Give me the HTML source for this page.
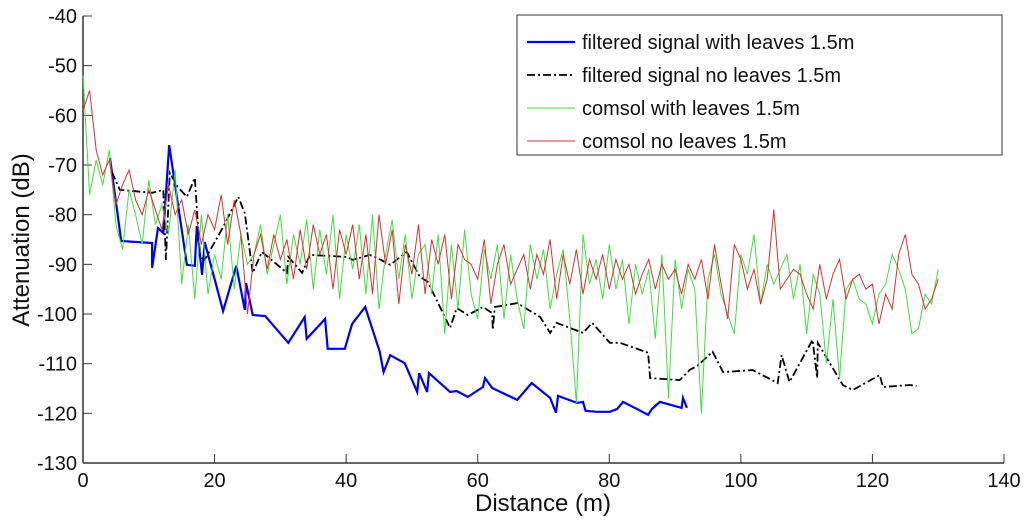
<!DOCTYPE html>
<html><head><meta charset="utf-8"><style>
html,body{margin:0;padding:0;background:#fff;}
svg{display:block;font-family:"Liberation Sans",Arial,sans-serif;}
</style></head><body>
<svg id="chart" width="1024" height="523" viewBox="0 0 1024 523" xmlns="http://www.w3.org/2000/svg">
<g id="axes"></g>
<g id="series"></g>
<g id="legend"></g>
</svg>
<script>
const xTicks=[0,20,40,60,80,100,120,140];
const yTicks=[-40,-50,-60,-70,-80,-90,-100,-110,-120,-130];
const blueX=[4.1,5.8,10.5,10.5,11.4,12.2,13.1,15.8,17,17.3,18.1,18.5,21.3,23.3,24.6,24.8,25.8,27.7,31.2,33.7,34,36.8,37.2,39.8,40.9,42.9,45.1,45.7,46.7,48.9,50.8,51.1,52.3,52.6,55.8,56.8,58.5,60.8,61.1,62.2,66,68.2,71,71.9,72.2,75.1,76,76.4,78.1,80.1,81.2,82.1,85.9,86.5,87.7,91,91.2,91.8];
const blueY=[-68.6,-85.3,-85.7,-90.7,-82.7,-83.7,-66,-90.1,-90.3,-82.3,-92.1,-85.5,-99.4,-90.3,-99.2,-93.8,-100.2,-100.4,-105.8,-100.6,-105,-101,-107,-107,-102,-98.6,-107.6,-111.7,-108.3,-109.9,-115.7,-111.9,-115.7,-111.9,-115.7,-115.5,-116.7,-114.7,-112.9,-114.9,-117.3,-113.9,-116.9,-119.9,-116.5,-117.9,-117.7,-119.5,-119.7,-119.7,-119.1,-117.7,-120.3,-119.1,-117.7,-118.9,-116.9,-118.9];
const blackX=[4.4,5.6,10.5,12.2,12.6,13.2,14.4,15.8,17,17.8,18.5,21.3,23.6,24.6,25.8,27.2,31,31.2,33.3,34.5,40.1,41,43.6,44.7,46.7,49.2,51.2,52.4,55.8,56.8,58.5,60.8,62.2,62.3,62.6,66,69.5,71,72,76,77.4,80.1,81.6,85.9,86.2,90.7,92.2,93.5,95.7,97.3,101.8,105.6,106.2,107.4,110.9,111.6,111.7,115.5,117,121.1,121.6,125.7,126.7];
const blackY=[-71.4,-75,-75.6,-75,-89.1,-71.6,-74.4,-76.4,-72.6,-88.5,-89.1,-82.5,-76.4,-79.7,-91.7,-87.5,-91.7,-88.5,-91.7,-88.1,-88.5,-89.1,-88.1,-88.7,-90.1,-87.5,-92.5,-93.5,-102.8,-98.8,-100.2,-98.6,-99.8,-103.2,-98.6,-97.8,-100.6,-103.8,-101.8,-103.8,-101.8,-105.8,-105.8,-107.8,-112.9,-113.3,-111.3,-110.3,-107.6,-111.7,-111.3,-113.9,-108.3,-113.7,-105.2,-112.9,-105.8,-114.3,-115.3,-112.3,-114.7,-114.3,-114.5];
const greenY=[-52,-76,-69,-74,-67,-82,-87,-75,-80,-86,-73,-82,-78,-84,-71,-94,-82,-97,-80,-96,-88,-93,-80,-95,-84,-90,-88,-82,-92,-86,-80,-94,-84,-90,-81,-95,-83,-92,-80,-97,-84,-91,-82,-96,-80,-99,-88,-81,-93,-84,-97,-88,-86,-96,-84,-104,-86,-99,-83,-96,-101,-87,-93,-86,-101,-88,-97,-103,-86,-93,-87,-99,-92,-87,-101,-118,-84,-94,-89,-97,-86,-95,-89,-102,-90,-96,-91,-105,-88,-117,-89,-99,-91,-95,-120,-93,-88,-96,-100,-104,-88,-92,-84,-98,-90,-94,-91,-88,-97,-90,-104,-92,-96,-110,-97,-113,-95,-93,-97,-98,-102,-96,-94,-88,-91,-95,-104,-103,-96,-98,-91];
const redY=[-59,-55,-67,-72,-69,-78,-74,-71,-77,-80,-75,-79,-83,-74,-80,-77,-84,-79,-86,-80,-83,-76,-86,-77,-84,-100,-88,-84,-91,-84,-89,-85,-93,-83,-91,-82,-88,-84,-95,-83,-88,-82,-93,-84,-96,-80,-90,-83,-98,-86,-92,-82,-96,-85,-90,-84,-97,-86,-89,-90,-93,-85,-98,-90,-86,-94,-91,-88,-95,-88,-92,-85,-97,-88,-94,-87,-96,-89,-93,-88,-95,-89,-93,-90,-96,-92,-89,-95,-90,-93,-91,-96,-90,-93,-89,-97,-86,-94,-101,-86,-89,-95,-91,-98,-93,-79,-95,-93,-91,-92,-96,-99,-90,-97,-92,-89,-97,-93,-92,-95,-94,-102,-96,-99,-88,-84,-92,-94,-99,-97,-93];
const legendLabels=["filtered signal with leaves 1.5m","filtered signal no leaves 1.5m","comsol with leaves 1.5m","comsol no leaves 1.5m"];

const NS="http://www.w3.org/2000/svg";
const X0=83,XS=(1004-83)/140,Y0=16,YS=(463-16)/90;
function sx(d){return X0+d*XS;}
function sy(v){return Y0+(-40-v)*YS;}
function mk(tag,attrs,parent){const e=document.createElementNS(NS,tag);for(const k in attrs)e.setAttribute(k,attrs[k]);parent.appendChild(e);return e;}

const axes=document.getElementById('axes');
let a=mk('line',{x1:X0,y1:sy(-130),x2:sx(140),y2:sy(-130),stroke:'#333','stroke-width':1.5},axes);


a=mk('line',{x1:X0,y1:sy(-40),x2:X0,y2:sy(-130),stroke:'#333','stroke-width':1.5},axes);


xTicks.forEach(t=>{
  const l=mk('line',{x1:sx(t),y1:sy(-130),x2:sx(t),y2:sy(-130)-9,stroke:'#333','stroke-width':1},axes);
  
  
  const tx=mk('text',{x:sx(t),y:487,'font-size':20,'text-anchor':'middle',fill:'#111'},axes);
  tx.textContent=t;
  
  
});
yTicks.forEach(t=>{
  const l=mk('line',{x1:X0,y1:sy(t),x2:X0+9,y2:sy(t),stroke:'#333','stroke-width':1},axes);
  
  
  const tx=mk('text',{x:X0-6,y:sy(t)+7,'font-size':20,'text-anchor':'end',fill:'#111'},axes);
  tx.textContent=t;
  
  
});
let xt=mk('text',{x:543,y:511,'font-size':24,'text-anchor':'middle',fill:'#111'},axes);
xt.textContent='Distance (m)';


let yt=mk('text',{x:0,y:0,'font-size':24,'text-anchor':'middle',fill:'#111',transform:'translate(29,240) rotate(-90)'},axes);
yt.textContent='Attenuation (dB)';



const ser=document.getElementById('series');
function pts(xs,ys){return xs.map((x,i)=>sx(x).toFixed(1)+','+sy(ys[i]).toFixed(1)).join(' ');}
const idx=redY.map((_,i)=>i);
let p=mk('polyline',{points:pts(blueX,blueY),fill:'none',stroke:'#0000ee','stroke-width':2.2,'stroke-linejoin':'miter'},ser);


p=mk('polyline',{points:pts(blackX,blackY),fill:'none',stroke:'#000','stroke-width':1.8,'stroke-dasharray':'8,3,2,3'},ser);


p=mk('polyline',{points:pts(idx,greenY),fill:'none',stroke:'#3ee03e','stroke-width':1},ser);


p=mk('polyline',{points:pts(idx,redY),fill:'none',stroke:'#d83030','stroke-width':1},ser);



const lg=document.getElementById('legend');
let box=mk('rect',{x:517,y:15,width:485,height:140,fill:'#fff',stroke:'#333','stroke-width':1},lg);


const styles=[{stroke:'#0000ee','stroke-width':2.2},{stroke:'#000','stroke-width':1.8,'stroke-dasharray':'8,3,2,3'},{stroke:'#3ee03e','stroke-width':1},{stroke:'#d83030','stroke-width':1}];
legendLabels.forEach((lab,i)=>{
  const y=42+i*33;
  const s=Object.assign({x1:527,y1:y,x2:575,y2:y},styles[i]);
  const l=mk('line',s,lg);
  
  
  const t=mk('text',{x:582,y:y+7,'font-size':20,fill:'#111'},lg);
  t.textContent=lab;
  
  
});
</script>
</body></html>
